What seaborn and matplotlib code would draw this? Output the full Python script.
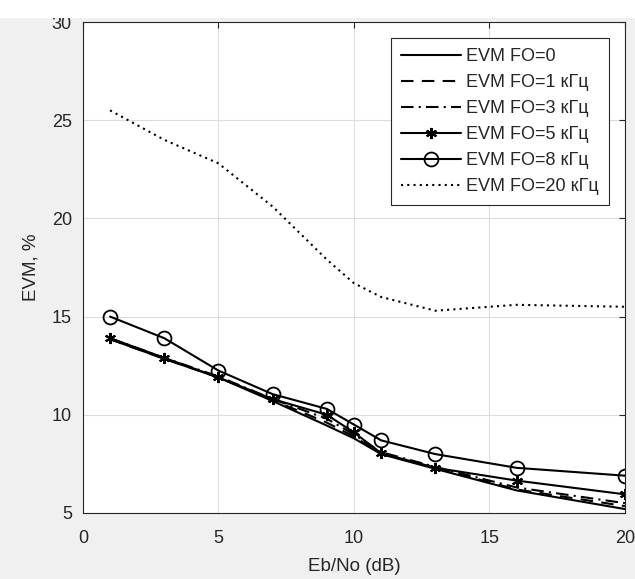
import pandas as pd
import matplotlib.pyplot as plt
import matplotlib.patches as mpatches
import seaborn as sns

sns.set_style("white")
plt.rcParams["font.family"] = ["Liberation Sans", "DejaVu Sans"]

# ---------- data ----------
ebno = [1, 3, 5, 7, 9, 10, 11, 13, 16, 20]
evm_fo0 = [13.85, 12.85, 11.9, 10.7, 9.45, 8.8, 8.0, 7.25, 6.15, 5.2]
evm_fo1 = [13.85, 12.85, 11.9, 10.75, 9.6, 8.9, 8.0, 7.3, 6.2, 5.35]
evm_fo3 = [13.9, 12.9, 11.95, 10.8, 9.8, 9.0, 8.1, 7.35, 6.3, 5.5]
evm_fo5 = [13.9, 12.9, 11.9, 10.8, 10.0, 9.1, 8.05, 7.3, 6.65, 5.95]
evm_fo8 = [15.0, 13.9, 12.25, 11.05, 10.3, 9.5, 8.7, 8.0, 7.3, 6.9]
evm_fo20 = [25.5, 24.0, 22.8, 20.6, 17.9, 16.7, 16.0, 15.3, 15.6, 15.5]

labels = ["EVM FO=0", "EVM FO=1 кГц", "EVM FO=3 кГц",
          "EVM FO=5 кГц", "EVM FO=8 кГц", "EVM FO=20 кГц"]
series = [evm_fo0, evm_fo1, evm_fo3, evm_fo5, evm_fo8, evm_fo20]
styles = [
    dict(linestyle="-"),
    dict(linestyle=(0, (6, 4))),
    dict(linestyle=(0, (6, 2.5, 1, 2.5))),
    dict(linestyle="-", marker=(6, 2, 0), markersize=8, markeredgewidth=1.5),
    dict(linestyle="-", marker="o", markersize=10, markerfacecolor="none",
         markeredgewidth=1.3),
    dict(linestyle=(0, (1, 2))),
]

fig = plt.figure(figsize=(6.35, 5.79), dpi=100)
fig.patch.set_facecolor("#f0f0f0")
fig.patches.append(mpatches.Rectangle((0, 0.969), 1, 0.031, transform=fig.transFigure,
                                      facecolor="white", edgecolor="none", zorder=0))
ax = fig.add_axes([0.1307, 0.114, 0.8535, 0.848])
ax.set_facecolor("white")

handles = []
for lab, vals, st in zip(labels, series, styles):
    df = pd.DataFrame({"ebno": ebno, "evm": vals})
    sns.lineplot(data=df, x="ebno", y="evm", ax=ax, color="black", linewidth=1.5)
    line = ax.lines[-1]
    line.set(**st)
    line.set_markeredgecolor("black")
    line.set_label(lab)
    handles.append(line)

ax.set_xlim(0, 20)
ax.set_ylim(5, 30)
ax.set_xticks([0, 5, 10, 15, 20])
ax.set_yticks([5, 10, 15, 20, 25, 30])
ax.grid(True, color="#dcdcdc", linewidth=0.8)
ax.tick_params(direction="in", length=4, colors="#262626", labelsize=13,
               top=True, right=True, labeltop=False, labelright=False)
ax.tick_params(axis="y", pad=8)
ax.tick_params(axis="x", pad=12)
for sp in ax.spines.values():
    sp.set_color("#262626")
    sp.set_linewidth(0.8)
ax.set_xlabel("Eb/No (dB)", fontsize=13.5, color="#262626", labelpad=8)
ax.set_ylabel("EVM, %", fontsize=13.5, color="#262626", labelpad=9)

leg = ax.legend(handles=handles, loc="upper right", fontsize=13, frameon=True,
                fancybox=False, edgecolor="#262626", handlelength=3.3,
                handletextpad=0.3, labelspacing=0.5, borderpad=0.55,
                borderaxespad=0.9, framealpha=1)
leg.get_frame().set_linewidth(0.8)

plt.savefig("out.png", dpi=100, facecolor=fig.get_facecolor())
plt.close()
